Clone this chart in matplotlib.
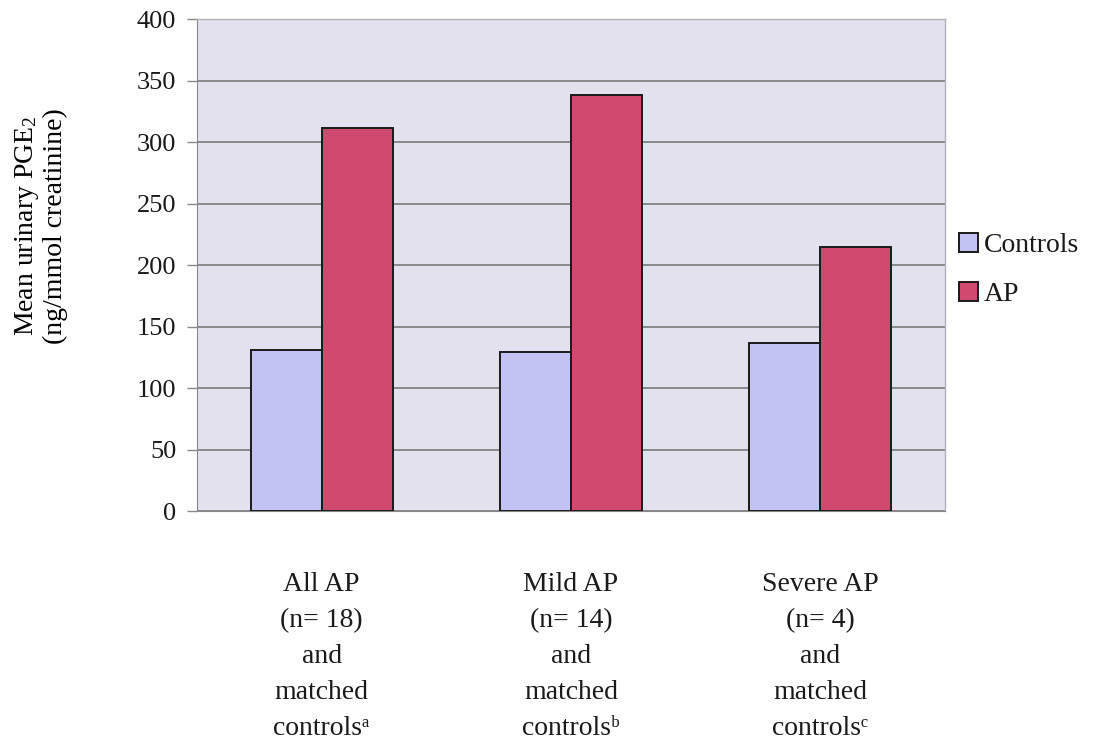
import matplotlib
matplotlib.use("Agg")
import matplotlib.pyplot as plt
import numpy as np

categories = [
    "All AP\n(n= 18)\nand\nmatched\ncontrols\u1d43",
    "Mild AP\n(n= 14)\nand\nmatched\ncontrols\u1d47",
    "Severe AP\n(n= 4)\nand\nmatched\ncontrols\u1d9c",
]
controls = [131, 129, 137]
ap = [311, 338, 215]
yticks = [0, 50, 100, 150, 200, 250, 300, 350, 400]

plt.rcParams['font.family'] = ['Liberation Serif', 'DejaVu Serif']
plt.rcParams['mathtext.fontset'] = 'custom'
plt.rcParams['mathtext.rm'] = 'Liberation Serif'
plt.rcParams['mathtext.it'] = 'Liberation Serif:italic'
plt.rcParams['text.color'] = '#1a1a1a'

fig = plt.figure(figsize=(11.15, 7.43), dpi=100)
ax = fig.add_axes([0.1767, 0.3122, 0.8475 - 0.1767, 0.9744 - 0.3122])
ax.set_facecolor('#e3e1ed')

x = np.arange(len(categories))
w = 0.285
ax.bar(x - w / 2, controls, w, color='#c2c3f2', edgecolor='#1a1a1a', linewidth=1.4,
       label='Controls', zorder=3)
ax.bar(x + w / 2, ap, w, color='#cf4a6e', edgecolor='#1a1a1a', linewidth=1.4,
       label='AP', zorder=3)

ax.set_xlim(-0.5, 2.5)
ax.set_ylim(0, 400)
ax.set_yticks(yticks)
ax.yaxis.grid(True, color='#7a7a7a', linewidth=1.2, zorder=1)
ax.set_axisbelow(True)
ax.tick_params(axis='y', labelsize=19, length=7, width=1, color='#888888', pad=8,
               labelcolor='#1a1a1a')
ax.tick_params(axis='x', length=0, pad=44, labelcolor='#1a1a1a')
ax.set_xticks(x)
ax.set_xticklabels(categories, fontsize=20, linespacing=1.58)

for side in ['top', 'right']:
    ax.spines[side].set_color('#b0b0b8')
    ax.spines[side].set_linewidth(1)
ax.spines['left'].set_color('#888888')
ax.spines['bottom'].set_color('#888888')

ax.set_ylabel("Mean urinary PGE$_2$\n(ng/mmol creatinine)", fontsize=20,
              linespacing=1.1)
ax.yaxis.set_label_coords(-0.172, 0.58)

leg = ax.legend(loc='center left', bbox_to_anchor=(1.0, 0.49), frameon=False,
                fontsize=20, handlelength=0.7, handleheight=0.7, handletextpad=0.2,
                labelspacing=0.85, borderaxespad=0.1)

fig.savefig('out.png', dpi=100, facecolor='white')
